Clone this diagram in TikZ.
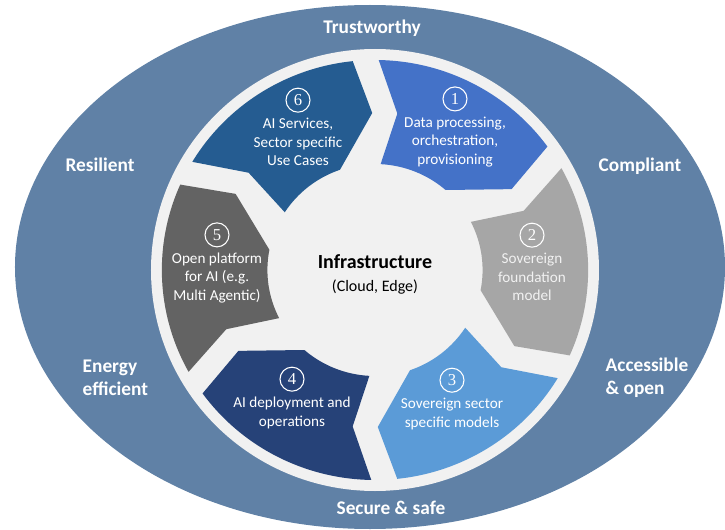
\documentclass[tikz,border=0pt]{standalone}
\usepackage{fontspec}
\setmainfont{Carlito}
\newfontfamily\numfont{Liberation Serif}
\usetikzlibrary{positioning}
\definecolor{outerblue}{RGB}{96,129,166}
\definecolor{ringgray}{RGB}{241,241,241}
\definecolor{segone}{RGB}{68,114,200}
\definecolor{segtwo}{RGB}{166,166,166}
\definecolor{segthree}{RGB}{91,155,215}
\definecolor{segfour}{RGB}{38,66,120}
\definecolor{segfive}{RGB}{99,99,99}
\definecolor{segsix}{RGB}{37,92,145}
\tikzset{
  quality/.style={text=white, font=\fontsize{14.5}{17}\selectfont\bfseries},
  steptext/.style={text=white, align=center, inner sep=0pt,
    font=\fontsize{11.4}{13.8}\selectfont},
  stepnum/.style={circle, draw=white, line width=0.8pt, text=white,
    minimum size=18pt, inner sep=0pt, font=\numfont\fontsize{12.5}{13}\selectfont}
}

\begin{document}
\begin{tikzpicture}[x=0.75pt,y=0.75pt]
  \useasboundingbox (-375,-259) rectangle (350,270);

  % outer ring with the qualities
  \fill[outerblue] (-5,3) ellipse [x radius=355, y radius=262];
  \fill[ringgray] (0,0) ellipse [x radius=224, y radius=221];

  % the six chevron segments, clockwise
  \begin{scope}[xscale=1.015]
    \foreach \a/\c in {60/segone, 0/segtwo, -60/segthree, -120/segfour, 180/segfive, 120/segsix}
      \fill[\c] ({\a+29}:210) arc[start angle=\a+29, end angle=\a-24, radius=210]
        -- ({\a-29}:157) -- ({\a-11}:106)
        arc[start angle=\a-11, end angle=\a+27, radius=106]
        -- ({\a+22}:158) -- cycle;
  \end{scope}

  \node[quality] (trust)  at (-3,242)   {Trustworthy};
  \node[quality] (resil)  at (-275,105) {Resilient};
  \node[quality] (compl)  at (265,104)  {Compliant};
  \node[quality, align=left, anchor=west] (energy) at (-297,-108) {Energy\\efficient};
  \node[quality, align=left, anchor=west] (access) at (226,-108)  {Accessible\\\& open};
  \node[quality] (secure) at (16,-238)  {Secure \& safe};

  \node[font=\fontsize{15}{17}\selectfont\bfseries] (infra) at (0,8) {Infrastructure};
  \node[font=\fontsize{12}{14}\selectfont, below=1pt of infra] (cloud) {(Cloud, Edge)};

  \node[steptext] (t1) at (80,128)   {Data processing,\\orchestration,\\provisioning};
  \node[stepnum, above=4pt of t1] (n1) {1};
  \node[steptext, text=ringgray] (t2) at (157,-7) {Sovereign\\foundation\\model};
  \node[stepnum, above=4pt of t2] (n2) {2};
  \node[steptext] (t3) at (77,-144)  {Sovereign sector\\specific models};
  \node[stepnum, above=4pt of t3] (n3) {3};
  \node[steptext] (t4) at (-83,-143) {AI deployment and\\operations};
  \node[stepnum, above=4pt of t4] (n4) {4};
  \node[steptext] (t5) at (-158,-8)  {Open platform\\for AI (e.g.\\Multi Agentic)};
  \node[stepnum, above=4pt of t5] (n5) {5};
  \node[steptext] (t6) at (-77,128)  {AI Services,\\Sector specific\\Use Cases};
  \node[stepnum, above=4pt of t6] (n6) {6};
\end{tikzpicture}
\end{document}
